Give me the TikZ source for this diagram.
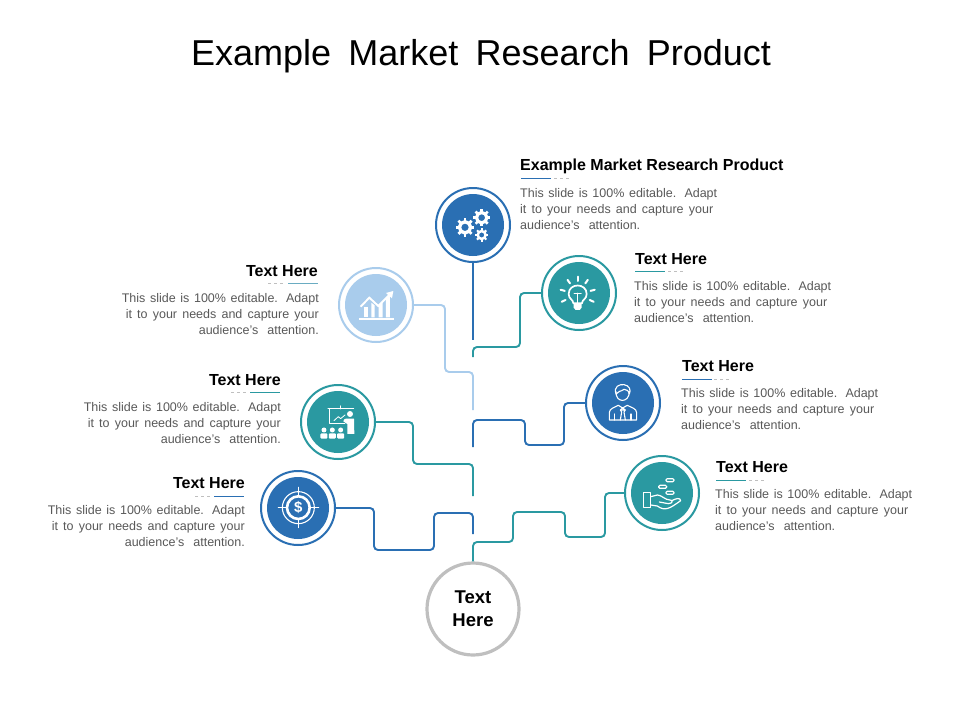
\documentclass[tikz,border=0pt]{standalone}
\usepackage{fontspec}
\setmainfont{Liberation Sans}
\definecolor{cblue}{HTML}{2A6FB3}
\definecolor{cteal}{HTML}{2A99A1}
\definecolor{clight}{HTML}{A9CCEC}
\definecolor{cgray}{HTML}{BFBFBF}
\definecolor{ctext}{HTML}{595959}
\newcommand{\lineA}[1]{\makebox[197pt][s]{#1}}
\newcommand{\lineB}[1]{\makebox[193pt][s]{#1}}
\newcommand{\bodyL}{\lineA{This slide is 100\% editable. Adapt}\\\lineB{it to your needs and capture your}\\\makebox[120pt][s]{audience's attention.}}
\newcommand{\gearicon}[4]{%
  \draw[white,line width=#4] (#1,#2) circle[radius=#3*0.62];
  \foreach \a in {0,45,...,315}{\draw[white,line width=#4*0.8] (#1,#2) ++(\a:{#3*0.7}) -- ++(\a:{#3*0.33});}}
\tikzset{
  ring/.style={circle,draw=#1,line width=2pt,fill=white,minimum size=74pt,inner sep=0pt},
  conn/.style={draw=#1,line width=1.9pt,rounded corners=4pt},
  head/.style={font=\fontsize{16}{18}\selectfont\bfseries,text=black,inner sep=0pt},
  bodyl/.style={font=\fontsize{12.5}{16}\selectfont,text=ctext,inner sep=0pt,align=left,anchor=north west},
  bodyr/.style={font=\fontsize{12.5}{16}\selectfont,text=ctext,inner sep=0pt,align=right,anchor=north east},
  ico/.style={white,line width=1.1pt,line join=round,line cap=round},
  rule/.style={line width=1pt},
  dashrule/.style={line width=.7pt,cgray,dash pattern=on 3pt off 3pt}
}
\begin{document}
\begin{tikzpicture}[x=1pt,y=-1pt]
\useasboundingbox (0,0) rectangle (960,720);
\fill[white] (0,0) rectangle (960,720);
% title
\node[font=\fontsize{36}{40}\selectfont,inner sep=0pt] (title) at (481,56) {\makebox[580pt][s]{Example Market Research Product}};
% rings
\node[ring=cblue] (top) at (473,225) {};
\node[ring=cteal] (bulb) at (579,293) {};
\node[ring=cblue] (pers) at (623,403) {};
\node[ring=cteal] (hand) at (662,493) {};
\node[ring=clight] (chart) at (376,305) {};
\node[ring=cteal] (pres) at (338,422) {};
\node[ring=cblue] (doll) at (298,508) {};
\node[circle,draw=cgray,line width=3.2pt,fill=white,minimum size=92pt,inner sep=0pt,align=center,font=\fontsize{18.5}{23}\selectfont\bfseries] (hub) at (473,609) {Text\\Here};
% discs
\fill[cblue] (top) circle[radius=31pt];
\fill[cteal] (bulb) circle[radius=31pt];
\fill[cblue] (pers) circle[radius=31pt];
\fill[cteal] (hand) circle[radius=31pt];
\fill[clight] (chart) circle[radius=31pt];
\fill[cteal] (pres) circle[radius=31pt];
\fill[cblue] (doll) circle[radius=31pt];
% free ends
\coordinate (e1) at (473,340);
\coordinate (e2) at (473,357);
\coordinate (e3) at (473,410);
\coordinate (e4) at (473,447);
\coordinate (e5) at (473,496);
\coordinate (e6) at (473,534);
% connectors
\draw[conn=cblue] (top.south) -- (e1);
\draw[conn=cteal] (bulb.west) -- (520,293) -- (520,347) -- (473,347) -- (e2);
\draw[conn=clight] (chart.east) -- (445,305) -- (445,372) -- (473,372) -- (e3);
\draw[conn=cblue] (pers.west) -- (564,403) -- (564,445) -- (525,445) -- (525,420) -- (473,420) -- (e4);
\draw[conn=cteal] (pres.east) -- (413,422) -- (413,464) -- (473,464) -- (e5);
\draw[conn=cblue] (doll.east) -- (374,508) -- (374,550) -- (434,550) -- (434,513) -- (473,513) -- (e6);
\draw[conn=cteal] (hand.west) -- (605,493) -- (605,537) -- (565,537) -- (565,512) -- (513,512) -- (513,542) -- (473,542) -- (hub.north);
% headings and rules
\node[head,anchor=west] (h1) at (520,166) {Example Market Research Product};
\draw[rule,cblue] (521,178) -- (551,178); \draw[dashrule] (554,178) -- (570,178);
\node[bodyl] (b1) at (520,188) {\bodyL};
\node[head,anchor=west] (h2) at (635,259) {Text Here};
\draw[rule,cteal] (635,271) -- (665,271); \draw[dashrule] (668,271) -- (684,271);
\node[bodyl] (b2) at (634,281) {\bodyL};
\node[head,anchor=west] (h3) at (682,366) {Text Here};
\draw[rule,cblue] (682,379) -- (712,379); \draw[dashrule] (714,379) -- (730,379);
\node[bodyl] (b3) at (681,388) {\bodyL};
\node[head,anchor=west] (h4) at (716,467) {Text Here};
\draw[rule,cteal] (716,480) -- (746,480); \draw[dashrule] (749,480) -- (765,480);
\node[bodyl] (b4) at (715,489) {\bodyL};
\node[head,anchor=east] (h5) at (318,271) {Text Here};
\draw[rule,cteal!60!cblue!70] (288,283) -- (318,283); \draw[dashrule] (268,283) -- (285,283);
\node[bodyr] (b5) at (319,293) {\bodyL};
\node[head,anchor=east] (h6) at (281,380) {Text Here};
\draw[rule,cteal] (250,392) -- (280,392); \draw[dashrule] (231,392) -- (248,392);
\node[bodyr] (b6) at (281,402) {\bodyL};
\node[head,anchor=east] (h7) at (245,483) {Text Here};
\draw[rule,cblue] (214,496) -- (244,496); \draw[dashrule] (195,496) -- (212,496);
\node[bodyr] (b7) at (245,505) {\bodyL};
% gears
\begin{scope}[shift={(420,140)},x=.3333pt,y=-.3333pt]
\gearicon{135}{262}{27}{3.4pt}
\gearicon{185}{233}{25}{3.2pt}
\gearicon{185}{285}{19}{2.5pt}
\end{scope}
% bulb and person
\begin{scope}[shift={(530,240)},x=.3333pt,y=-.3333pt]
\draw[ico,line width=1.7pt] (130,190) .. controls (130,178) and (116,178) .. (116,162) .. controls (116,128) and (170,128) .. (170,162) .. controls (170,178) and (156,178) .. (156,190) -- cycle;
\draw[ico,line width=1.5pt] (133,160) -- (153,160) (143,160) -- (143,190);
\fill[white] (131,192) -- (155,192) -- (155,203) -- (149,210) -- (137,210) -- (131,203) -- cycle;
\foreach \a in {270,235,305,195,345,155,25}{\draw[ico,line width=2pt] (143,163) ++(\a:40) -- ++(\a:13);}
% person
\draw[ico] (258,455) .. controls (256,490) and (298,490) .. (298,455);
\draw[ico] (258,462) .. controls (250,440) and (268,432) .. (282,434) .. controls (298,436) and (304,450) .. (298,462) .. controls (296,452) and (290,448) .. (282,448) .. controls (272,456) and (264,452) .. (258,462) -- cycle;
\draw[ico] (238,540) -- (238,518) .. controls (238,505) and (255,502) .. (265,496) -- (278,504) -- (292,496) .. controls (302,502) and (320,505) .. (320,518) -- (320,540) -- cycle;
\draw[ico] (278,504) -- (271,510) -- (275,516) -- (271,540) (278,504) -- (286,510) -- (282,516) -- (286,540) (271,510) -- (286,510);
\draw[ico] (254,522) -- (254,540) (303,522) -- (303,540);
\end{scope}
% hand
\begin{scope}[shift={(620,450)},x=.3333pt,y=-.3333pt]
\draw[ico,line width=1.2pt] (70,128) rectangle (92,172);
\draw[ico,line width=1.2pt] (92,140) -- (112,135) .. controls (125,135) and (135,150) .. (150,150) .. controls (160,150) and (158,161) .. (145,161) -- (118,156);
\draw[ico,line width=1.2pt] (92,165) -- (112,168) .. controls (135,185) and (150,175) .. (182,152) .. controls (180,142) and (170,145) .. (155,152);
\draw[ico,line width=1.2pt,rounded corners=1.2pt] (138,86) rectangle (162,95);
\draw[ico,line width=1.2pt,rounded corners=1.2pt] (116,106) rectangle (140,115);
\draw[ico,line width=1.2pt,rounded corners=1.2pt] (138,124) rectangle (162,133);
\end{scope}
% chart, presentation, dollar
\begin{scope}[shift={(250,260)},x=.3333pt,y=-.3333pt]
\fill[white] (327,173) rectangle (432,180);
\fill[white] (342,142) rectangle (354,172);
\fill[white] (364,128) -- (374,136) -- (374,172) -- (364,172) -- cycle;
\fill[white] (386,136) -- (398,126) -- (398,172) -- (386,172) -- cycle;
\fill[white] (408,114) -- (420,104) -- (420,172) -- (408,172) -- cycle;
\draw[white,line width=1.9pt,line join=miter] (332,140) -- (358,113) -- (385,138) -- (422,101);
\fill[white] (408,99) -- (430,93) -- (426,115) -- cycle;
% presentation
\draw[ico,line width=1pt] (272,438) -- (272,447) (234,447) -- (311,447) (238,447) -- (238,490) -- (285,490);
\draw[ico,line width=.8pt] (252,482) -- (265,470) -- (272,476) -- (285,465);
\fill[white] (300,462) circle[radius=9];
\fill[white] (288,476) -- (312,476) -- (313,522) -- (292,522) -- (292,492) -- (280,484) -- (283,478) -- cycle;
\foreach \x in {222,247,272}{\fill[white] (\x,510) circle[radius=7.5];
  \fill[white,rounded corners=1pt] (\x-10.5,520) rectangle (\x+10.5,536);}
% dollar
\draw[white,line width=1.1pt] (145,743) circle[radius=48];
\draw[white,line width=2.6pt] (145,743) circle[radius=34];
\draw[ico,line width=1.2pt] (85,743) -- (112,743) (178,743) -- (206,743) (145,682) -- (145,710) (145,776) -- (145,803);
\node[text=white,font=\fontsize{15}{15}\selectfont\bfseries,inner sep=0pt] (dsym) at (145,743) {\$};
\end{scope}
\end{tikzpicture}
\end{document}
